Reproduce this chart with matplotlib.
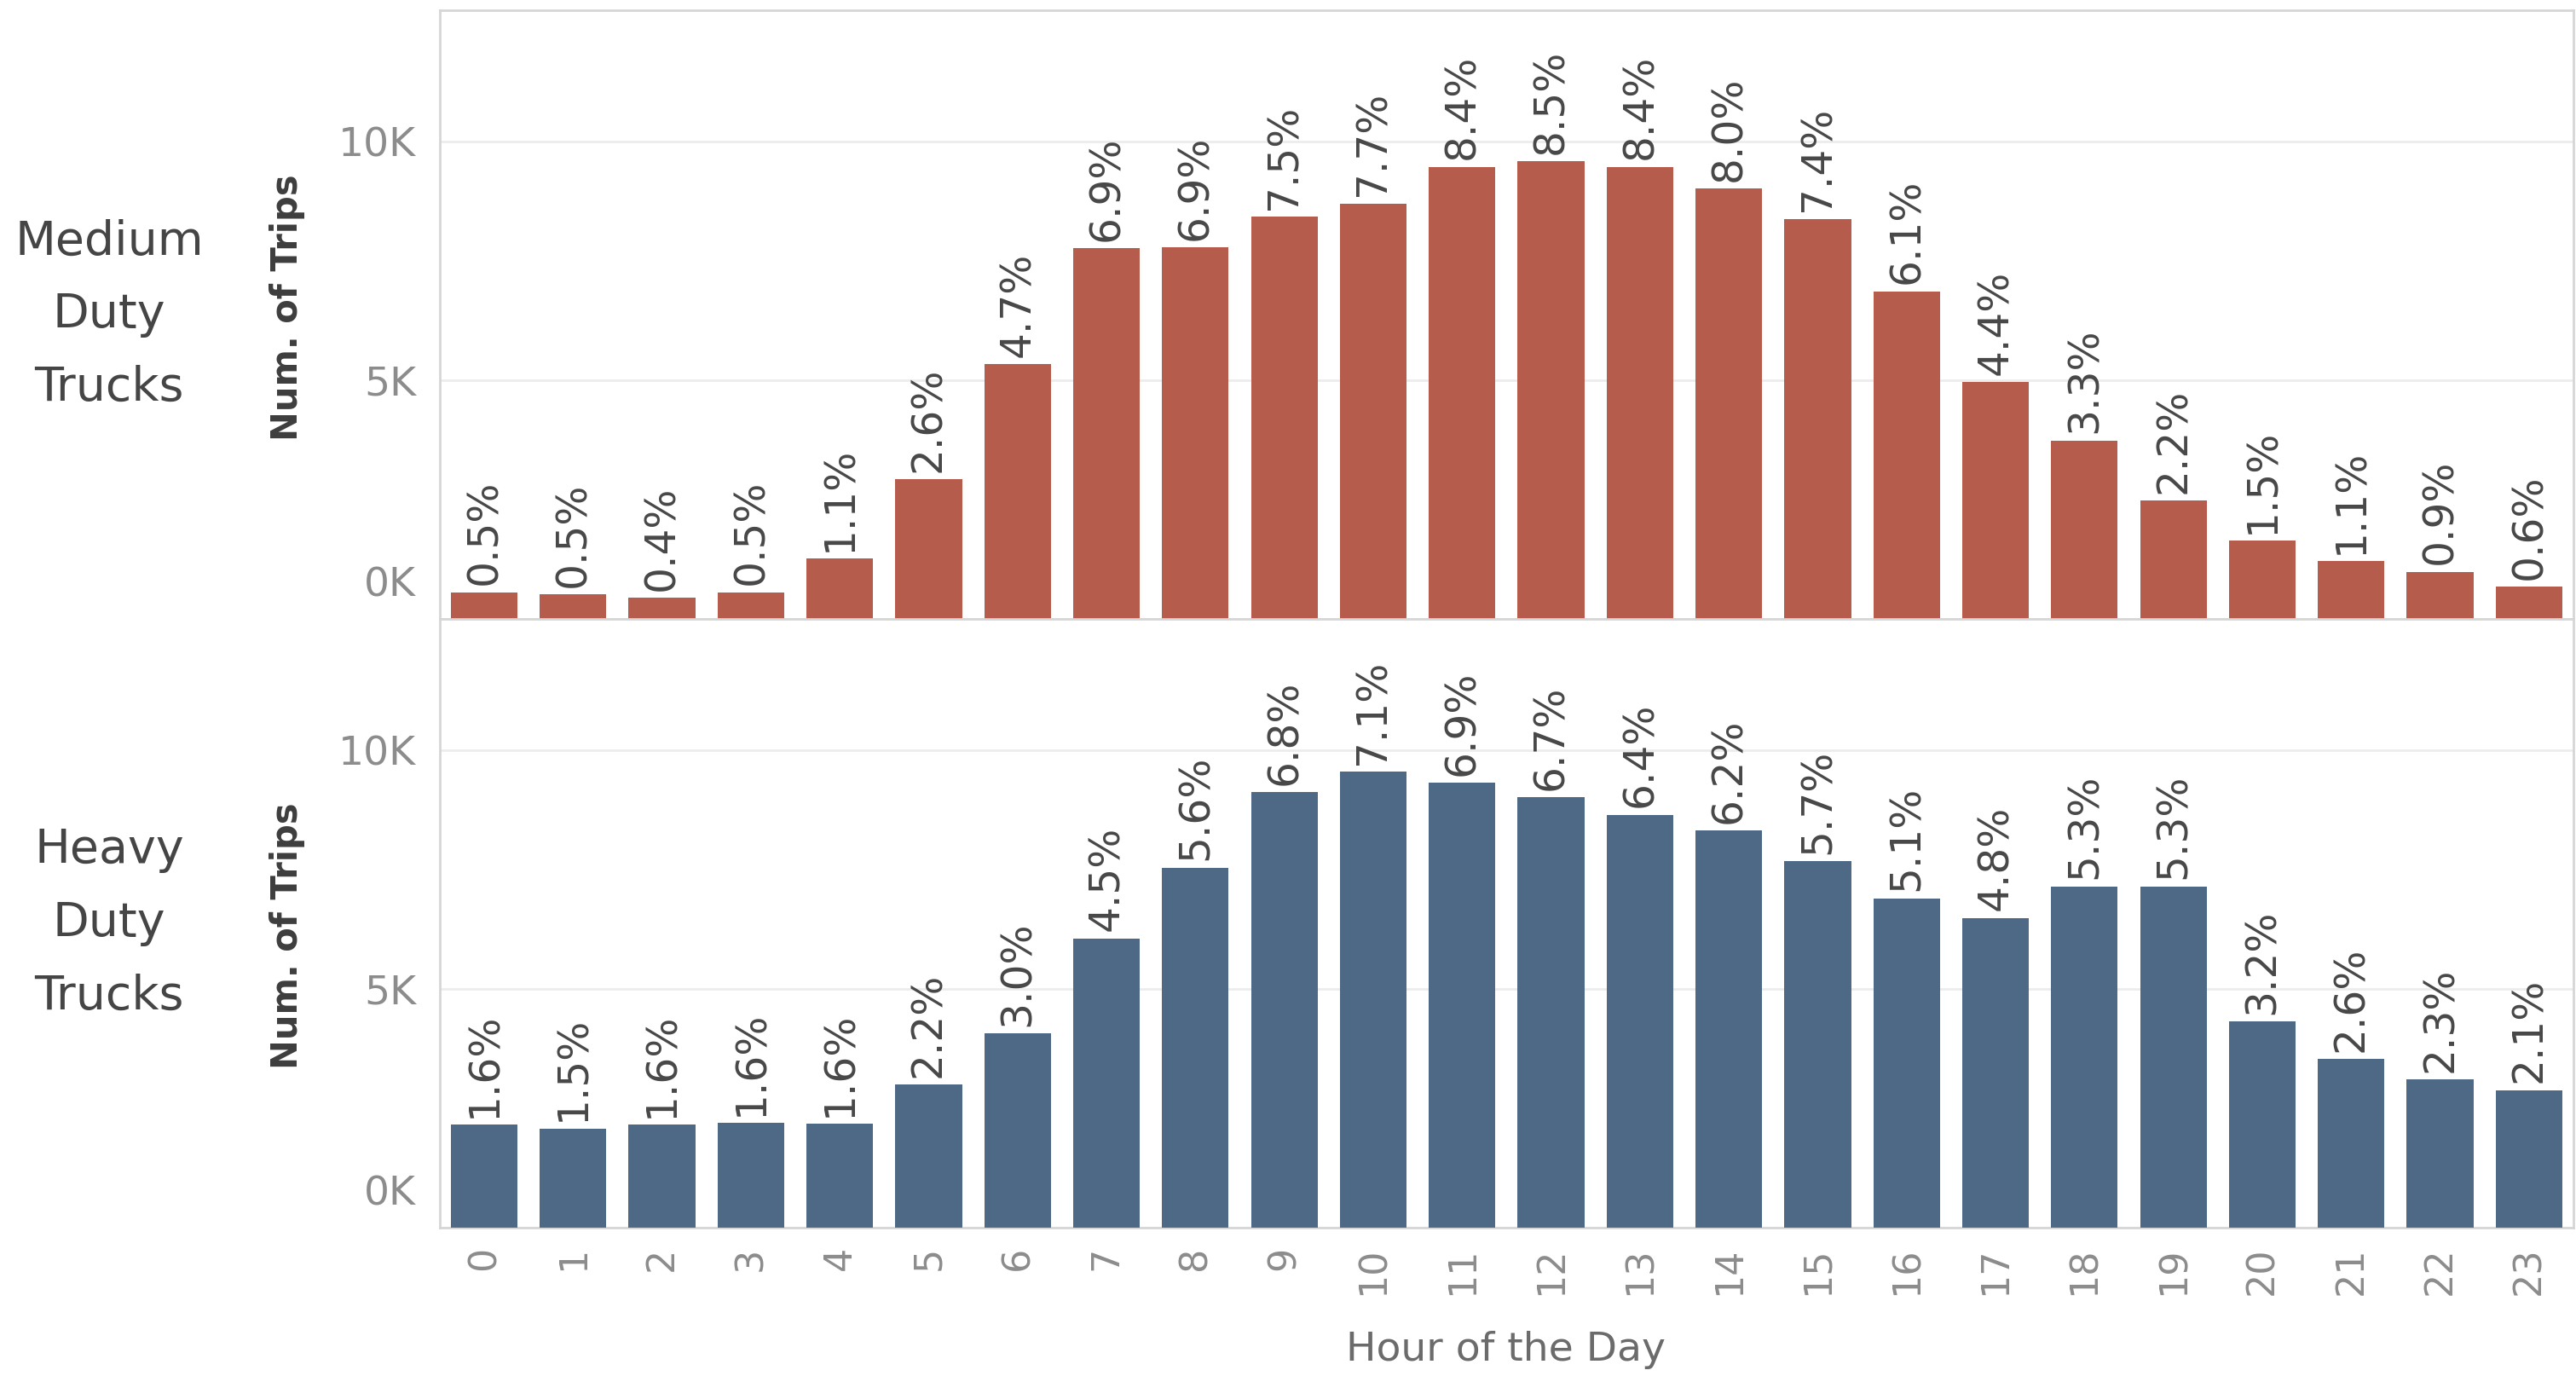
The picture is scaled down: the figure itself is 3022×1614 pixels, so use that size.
import matplotlib.pyplot as plt
import matplotlib.transforms as mtransforms
from matplotlib.ticker import FixedLocator, FuncFormatter

# hour of the day on the x axis
hours = list(range(24))

# number of trips per hour, medium duty trucks
medium_trips = [560, 520, 440, 560, 1260, 2930, 5330, 7760, 7780, 8420, 8700, 9470,
                9580, 9470, 9020, 8380, 6860, 4960, 3740, 2480, 1640, 1210, 990, 670]
# share of the daily trips (%), medium duty trucks
medium_share = [0.5, 0.5, 0.4, 0.5, 1.1, 2.6, 4.7, 6.9, 6.9, 7.5, 7.7, 8.4,
                8.5, 8.4, 8.0, 7.4, 6.1, 4.4, 3.3, 2.2, 1.5, 1.1, 0.9, 0.6]

# number of trips per hour, heavy duty trucks
heavy_trips = [2160, 2080, 2160, 2190, 2180, 3000, 4070, 6060, 7540, 9120, 9550, 9320,
               9020, 8650, 8320, 7680, 6900, 6490, 7150, 7150, 4320, 3530, 3100, 2880]
# share of the daily trips (%), heavy duty trucks
heavy_share = [1.6, 1.5, 1.6, 1.6, 1.6, 2.2, 3.0, 4.5, 5.6, 6.8, 7.1, 6.9,
               6.7, 6.4, 6.2, 5.7, 5.1, 4.8, 5.3, 5.3, 3.2, 2.6, 2.3, 2.1]

row_titles = ["Medium\nDuty\nTrucks", "Heavy\nDuty\nTrucks"]
y_ticks = [0, 5000, 10000]

RED = "#b65c4c"
BLUE = "#4e6985"
BORDER = "#d6d6d6"
GRID = "#ececec"
TICK_GREY = "#8c8c8c"

fig = plt.figure(figsize=(30.22, 16.14), dpi=100)
ax_top = fig.add_axes([0.1707, 0.5502, 0.8283, 0.4424])
ax_bot = fig.add_axes([0.1707, 0.1078, 0.8283, 0.4424])

panels = [(ax_top, medium_trips, medium_share, RED),
          (ax_bot, heavy_trips, heavy_share, BLUE)]

# nudge for the 0K label so it sits inside the panel
lift = mtransforms.ScaledTranslation(0, 12 / 72, fig.dpi_scale_trans)

for ax, trips, share, color in panels:
    ax.bar(hours, trips, width=0.75, color=color, zorder=3)
    ax.set_xlim(-0.5, 23.5)
    ax.set_ylim(0, 12750)

    # thousands on the y axis, e.g. 5K
    ax.yaxis.set_major_locator(FixedLocator(y_ticks))
    ax.yaxis.set_major_formatter(FuncFormatter(lambda v, p: f"{int(v / 1000)}K"))
    ax.grid(axis="y", color=GRID, linewidth=2, zorder=0)
    ax.tick_params(axis="y", length=0, pad=20, labelsize=34, labelcolor=TICK_GREY)

    for side in ["left", "right", "top", "bottom"]:
        ax.spines[side].set_color(BORDER)
        ax.spines[side].set_linewidth(2)

    # percent labels above the bars
    for h, t, s in zip(hours, trips, share):
        ax.annotate(f"{s:.1f}%", (h, t), xytext=(0, 6), textcoords="offset points",
                    rotation=90, ha="center", va="bottom", fontsize=35, color="#474747",
                    zorder=4)

    zero_label = ax.get_yticklabels()[0]
    zero_label.set_verticalalignment("bottom")
    zero_label.set_transform(zero_label.get_transform() + lift)

ax_top.tick_params(axis="x", length=0, labelbottom=False)
ax_bot.set_xticks(hours)
ax_bot.set_xticklabels([str(h) for h in hours], rotation=90, va="top", ha="center")
ax_bot.tick_params(axis="x", length=0, pad=16, labelsize=32, labelcolor=TICK_GREY)

# row headers and axis titles
fig.text(0.0424, 0.7714, row_titles[0], ha="center", va="center", fontsize=40,
         color="#454545", linespacing=1.75)
fig.text(0.0424, 0.3290, row_titles[1], ha="center", va="center", fontsize=40,
         color="#454545", linespacing=1.75)
fig.text(0.1115, 0.7763, "Num. of Trips", rotation=90, ha="center", va="center",
         fontsize=30, fontweight="bold", color="#3d3d3d")
fig.text(0.1115, 0.3197, "Num. of Trips", rotation=90, ha="center", va="center",
         fontsize=30, fontweight="bold", color="#3d3d3d")
fig.text(0.5847, 0.0186, "Hour of the Day", ha="center", va="center", fontsize=34,
         color="#6b6b6b")

fig.savefig("out.png", dpi=100, facecolor="white")
